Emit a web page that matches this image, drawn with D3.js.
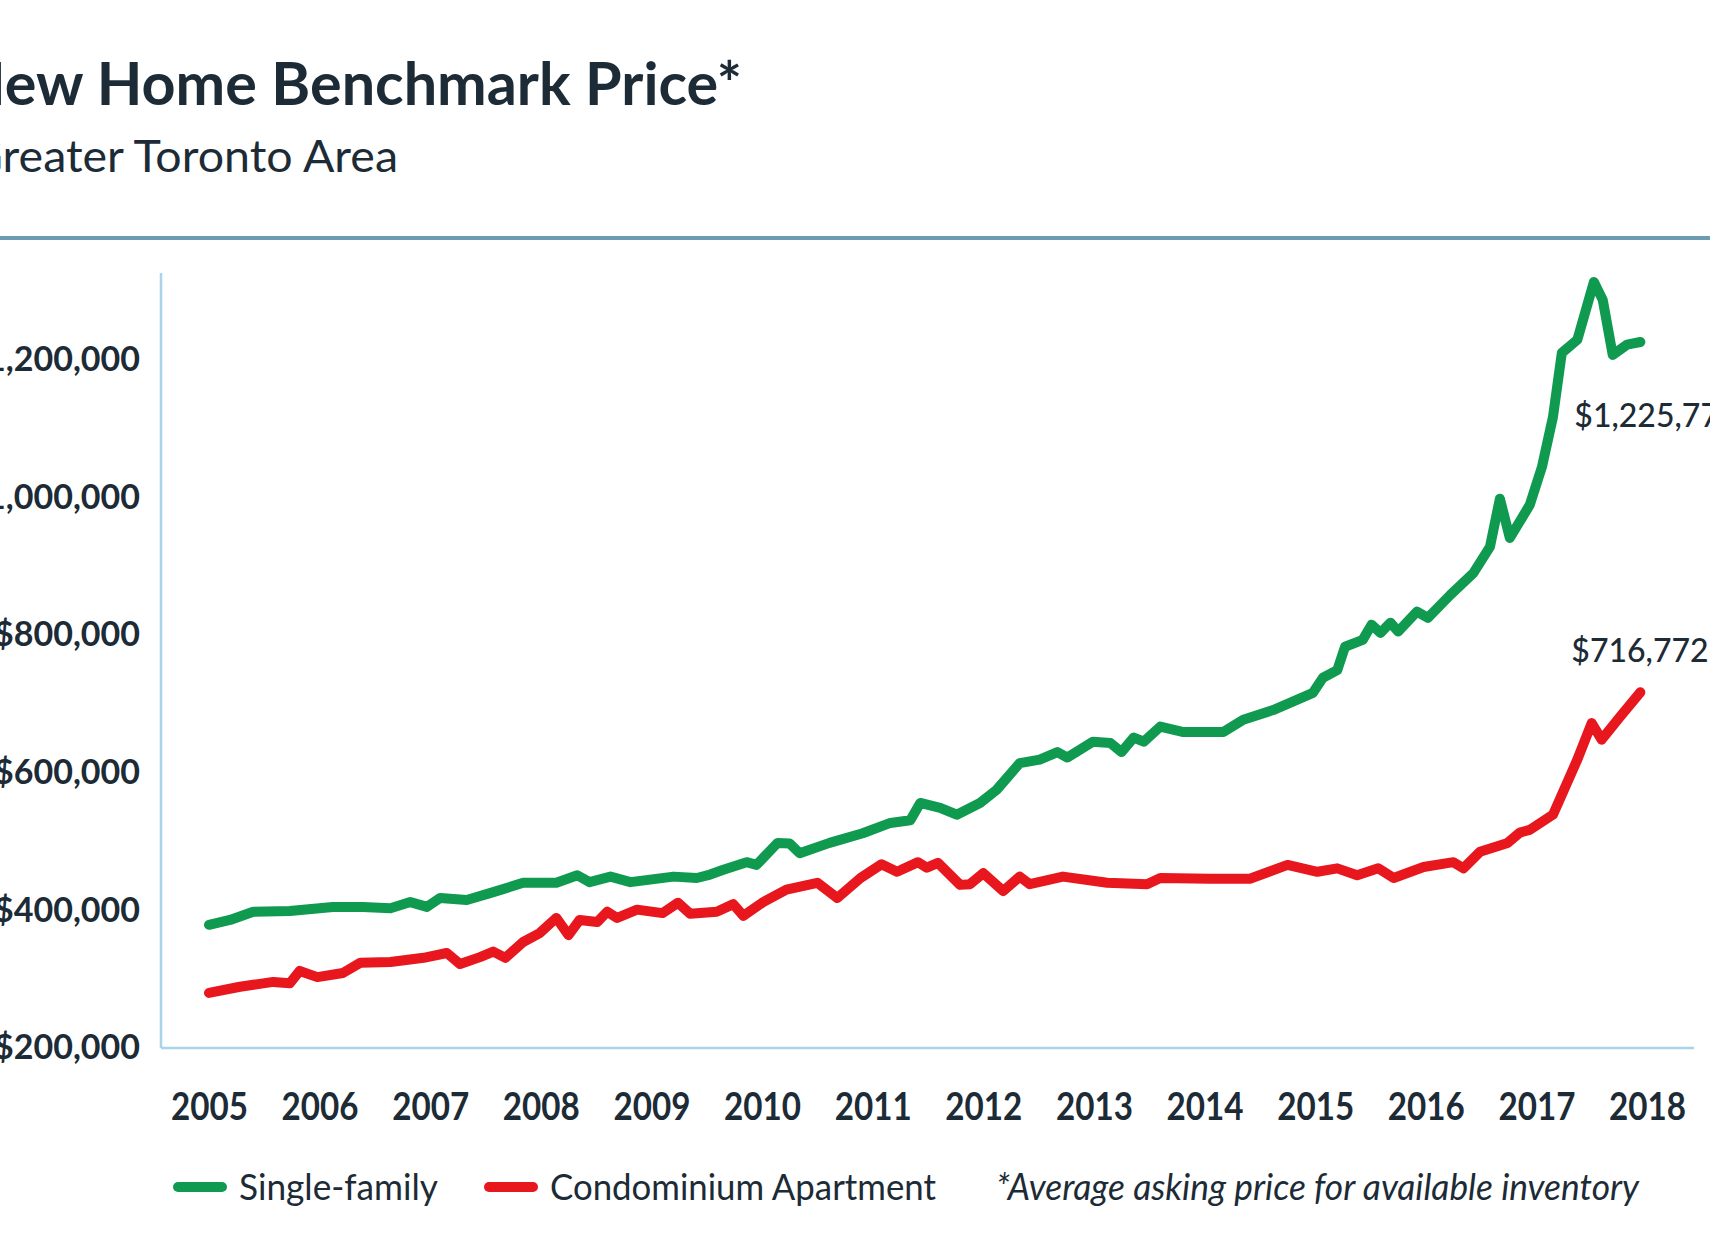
<!DOCTYPE html>
<html>
<head>
<meta charset="utf-8">
<script src="https://cdn.jsdelivr.net/npm/d3@7"></script>
<style>
  html, body { margin: 0; padding: 0; background: #fff; }
  svg { display: block; font-family: Lato, 'Open Sans', sans-serif; }
</style>
</head>
<body>
<svg width="1710" height="1248"></svg>
<script>
// values (decimal year, price)
const singleYears = [2005.0, 2005.19, 2005.4, 2005.73, 2006.12, 2006.39, 2006.64, 2006.82, 2006.97, 2007.09,
  2007.33, 2007.54, 2007.84, 2008.14, 2008.33, 2008.44, 2008.63, 2008.81, 2009.2, 2009.41,
  2009.53, 2009.65, 2009.86, 2009.95, 2010.14, 2010.25, 2010.34, 2010.61, 2010.91, 2011.16,
  2011.34, 2011.43, 2011.61, 2011.76, 2011.97, 2012.12, 2012.33, 2012.51, 2012.67, 2012.76,
  2012.99, 2013.15, 2013.25, 2013.36, 2013.45, 2013.6, 2013.81, 2014.05, 2014.17, 2014.35,
  2014.62, 2014.98, 2015.07, 2015.2, 2015.27, 2015.43, 2015.51, 2015.59, 2015.68, 2015.75,
  2015.92, 2016.02, 2016.22, 2016.43, 2016.58, 2016.67, 2016.76, 2016.94, 2017.05, 2017.15,
  2017.23, 2017.37, 2017.52, 2017.6, 2017.69, 2017.82, 2017.94]
const singlePrices = [379000, 386000, 398000, 399000, 405000, 405000, 403000, 412000, 405000, 418000,
  415000, 425000, 440000, 440000, 451000, 441000, 449000, 441000, 449000, 447000,
  452000, 459000, 470000, 466000, 498000, 497000, 483000, 498000, 512000, 527000,
  531000, 556000, 549000, 539000, 556000, 575000, 614000, 619000, 630000, 622000,
  645000, 643000, 630000, 651000, 645000, 667000, 659000, 659000, 659000, 677000,
  691000, 716000, 738000, 749000, 783000, 793000, 815000, 803000, 818000, 805000,
  834000, 825000, 858000, 890000, 928000, 998000, 941000, 989000, 1044000, 1117000,
  1210000, 1229000, 1313000, 1287000, 1207000, 1222000, 1225779]

const condoYears = [2005.0, 2005.28, 2005.58, 2005.73, 2005.82, 2005.98, 2006.21, 2006.37, 2006.64, 2006.94,
  2007.15, 2007.27, 2007.45, 2007.57, 2007.68, 2007.84, 2007.99, 2008.14, 2008.25, 2008.35,
  2008.51, 2008.6, 2008.69, 2008.87, 2009.1, 2009.24, 2009.35, 2009.59, 2009.74, 2009.83,
  2010.01, 2010.22, 2010.5, 2010.68, 2010.89, 2011.08, 2011.22, 2011.41, 2011.49, 2011.59,
  2011.79, 2011.88, 2012.0, 2012.18, 2012.33, 2012.42, 2012.72, 2013.12, 2013.48, 2013.6,
  2014.05, 2014.41, 2014.75, 2015.02, 2015.2, 2015.38, 2015.57, 2015.71, 2015.98, 2016.25,
  2016.34, 2016.49, 2016.74, 2016.85, 2016.94, 2017.15, 2017.37, 2017.5, 2017.59, 2017.75,
  2017.94]
const condoPrices = [280000, 289000, 296000, 294000, 312000, 303000, 309000, 324000, 325000, 331000,
  338000, 322000, 332000, 340000, 331000, 354000, 367000, 389000, 364000, 386000,
  383000, 398000, 389000, 401000, 396000, 411000, 395000, 398000, 409000, 392000,
  412000, 430000, 440000, 418000, 447000, 467000, 456000, 470000, 462000, 469000,
  437000, 438000, 454000, 428000, 449000, 438000, 449000, 440000, 438000, 447000,
  446000, 446000, 466000, 456000, 461000, 451000, 461000, 447000, 463000, 470000,
  461000, 485000, 498000, 513000, 517000, 539000, 619000, 672000, 648000, 680000,
  716772]

const yearTicks = [2005, 2006, 2007, 2008, 2009, 2010, 2011, 2012, 2013, 2014, 2015, 2016, 2017, 2018]
const priceTicks = [200000, 400000, 600000, 800000, 1000000, 1200000]
const seriesNames = ['Single-family', 'Condominium Apartment']
const seriesColors = ['#0f9a50', '#e8161d']
const endLabels = ['$1,225,779', '$716,772']

const svg = d3.select('svg')
const width = +svg.attr('width')
const ink = '#1c2b36'

const plotLeft = 161, plotRight = 1694, plotTop = 273, plotBottom = 1048

const x = d3.scaleLinear().domain([2005, 2018]).range([209, 1647])
const y = d3.scaleLinear().domain([200000, 1326000]).range([plotBottom, plotTop])

// title block
svg.append('text')
  .attr('x', -40).attr('y', 105)
  .attr('font-size', 60).attr('font-weight', 700)
  .attr('fill', ink)
  .attr('textLength', 782).attr('lengthAdjust', 'spacingAndGlyphs')
  .text('New Home Benchmark Price*')

svg.append('text')
  .attr('x', -31).attr('y', 172)
  .attr('font-size', 45)
  .attr('fill', ink)
  .attr('textLength', 429).attr('lengthAdjust', 'spacingAndGlyphs')
  .text('Greater Toronto Area')

svg.append('line')
  .attr('x1', 0).attr('x2', width)
  .attr('y1', 238).attr('y2', 238)
  .attr('stroke', '#6b9cb1').attr('stroke-width', 4)

// axes lines
svg.append('line')
  .attr('x1', plotLeft).attr('x2', plotLeft).attr('y1', plotTop).attr('y2', plotBottom)
  .attr('stroke', '#a9d4ea').attr('stroke-width', 2.5)
svg.append('line')
  .attr('x1', plotLeft).attr('x2', plotRight).attr('y1', plotBottom).attr('y2', plotBottom)
  .attr('stroke', '#a9d4ea').attr('stroke-width', 2.5)

const yAxis = svg.append('g')
  .attr('transform', `translate(${plotLeft},0)`)
  .call(d3.axisLeft(y).tickValues(priceTicks).tickSize(0).tickPadding(21).tickFormat(d3.format('$,')))
yAxis.select('.domain').remove()
yAxis.selectAll('text')
  .attr('font-family', 'Lato, sans-serif')
  .attr('font-size', 34).attr('font-weight', 700)
  .attr('fill', ink)

const xAxis = svg.append('g')
  .attr('transform', `translate(0,${plotBottom})`)
  .call(d3.axisBottom(x).tickValues(yearTicks).tickSize(0).tickFormat(d3.format('d')))
xAxis.select('.domain').remove()
xAxis.selectAll('text')
  .attr('font-family', 'Lato, sans-serif')
  .attr('font-size', 38).attr('font-weight', 700)
  .attr('fill', ink)
  .attr('y', 72).attr('dy', 0)
  .attr('textLength', 77).attr('lengthAdjust', 'spacingAndGlyphs')

// lines
const line = d3.line()
  .x(d => x(d[0]))
  .y(d => y(d[1]))

const series = [
  d3.zip(singleYears, singlePrices),
  d3.zip(condoYears, condoPrices)
]

svg.selectAll('.series')
  .data(series)
  .join('path')
  .attr('class', 'series')
  .attr('d', line)
  .attr('fill', 'none')
  .attr('stroke', (d, i) => seriesColors[i])
  .attr('stroke-width', 10)
  .attr('stroke-linejoin', 'round')
  .attr('stroke-linecap', 'round')

// end value labels
const labelOffsets = [[-66, 85], [-69, -30]]
series.forEach((s, i) => {
  const last = s[s.length - 1]
  svg.append('text')
    .attr('x', x(last[0]) + labelOffsets[i][0])
    .attr('y', y(last[1]) + labelOffsets[i][1])
    .attr('font-size', 32).attr('font-weight', 500)
    .attr('fill', ink)
    .text(endLabels[i])
})

// legend
const legendY = 1187
const swatchX = [178, 489]
const textX = [239, 550]
const textW = [199, 386]
seriesNames.forEach((name, i) => {
  svg.append('line')
    .attr('x1', swatchX[i]).attr('x2', swatchX[i] + 44)
    .attr('y1', legendY).attr('y2', legendY)
    .attr('stroke', seriesColors[i]).attr('stroke-width', 10)
    .attr('stroke-linecap', 'round')
  svg.append('text')
    .attr('x', textX[i]).attr('y', legendY + 13)
    .attr('font-size', 37)
    .attr('fill', ink)
    .attr('textLength', textW[i]).attr('lengthAdjust', 'spacingAndGlyphs')
    .text(name)
})

svg.append('text')
  .attr('x', 996).attr('y', legendY + 13)
  .attr('font-size', 36).attr('font-style', 'italic')
  .attr('fill', ink)
  .attr('textLength', 643).attr('lengthAdjust', 'spacingAndGlyphs')
  .text('*Average asking price for available inventory')
</script>
</body>
</html>
